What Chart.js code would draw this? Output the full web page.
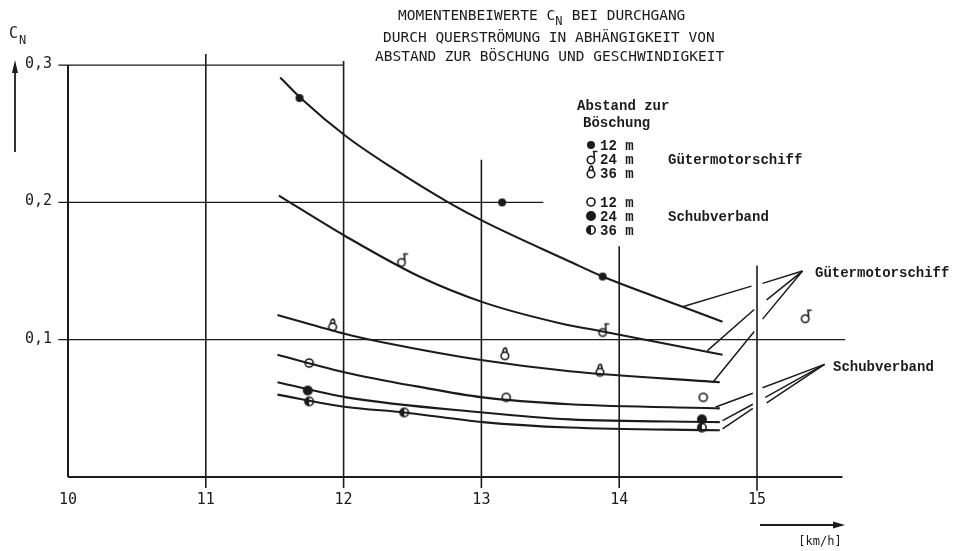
<!DOCTYPE html>
<html>
<head>
<meta charset="utf-8">
<script src="https://cdn.jsdelivr.net/npm/chart.js@4/dist/chart.umd.min.js"></script>
<style>
  html, body { margin: 0; padding: 0; background: #fff; }
  #wrap { width: 966px; height: 551px; }
</style>
</head>
<body>
<div id="wrap"><canvas id="chart" width="966" height="551"></canvas></div>
<script>
// ticks
const xTicks = [10, 11, 12, 13, 14, 15];
const yTicks = [0.1, 0.2, 0.3];
const yTickLabels = ['0,1', '0,2', '0,3'];

// fitted curves (speed km/h, C_N)
const speedGms12 = [11.54, 11.70, 12.02, 12.34, 12.76, 13.02, 13.64, 13.88, 14.46, 14.75];
const cnGms12 = [0.291, 0.275, 0.248, 0.226, 0.200, 0.186, 0.157, 0.146, 0.124, 0.113];
const speedGms24 = [11.53, 12.02, 12.55, 13.02, 13.57, 13.88, 14.75];
const cnGms24 = [0.205, 0.175, 0.146, 0.127, 0.112, 0.106, 0.089];
const speedGms36 = [11.52, 12.02, 12.29, 13.01, 13.64, 14.73];
const cnGms36 = [0.118, 0.104, 0.098, 0.085, 0.077, 0.069];
const speedSv12 = [11.52, 12.02, 12.53, 13.01, 13.64, 14.73];
const cnSv12 = [0.089, 0.076, 0.066, 0.058, 0.053, 0.050];
const speedSv24 = [11.52, 12.02, 13.01, 13.64, 14.73];
const cnSv24 = [0.069, 0.058, 0.047, 0.042, 0.040];
const speedSv36 = [11.52, 12.02, 12.44, 13.01, 13.64, 14.73];
const cnSv36 = [0.060, 0.051, 0.047, 0.040, 0.036, 0.034];

// measured points
const ptGms12X = [11.68, 13.15, 13.88];
const ptGms12Y = [0.276, 0.200, 0.146];
const ptGms24X = [12.42, 13.88, 15.35];
const ptGms24Y = [0.157, 0.106, 0.116];
const ptGms36X = [11.92, 13.17, 13.86];
const ptGms36Y = [0.110, 0.089, 0.077];
const ptSv12X = [11.75, 13.18, 14.61];
const ptSv12Y = [0.083, 0.058, 0.058];
const ptSv24X = [11.74, 14.60];
const ptSv24Y = [0.063, 0.042];
const ptSv36X = [11.75, 12.44, 14.60];
const ptSv36Y = [0.055, 0.047, 0.036];

// leader lines to the right-hand labels (null = gap at the 15 line)
const leadersGms = [
  [[14.46, 0.124], [14.96, 0.139], null, [15.04, 0.141], [15.33, 0.150]],
  [[14.64, 0.092], [14.98, 0.122], null, [15.07, 0.129], [15.33, 0.150]],
  [[14.68, 0.069], [14.98, 0.106], null, [15.04, 0.115], [15.33, 0.150]]
];
const leadersSv = [
  [[14.70, 0.051], [14.97, 0.061], null, [15.04, 0.065], [15.49, 0.082]],
  [[14.75, 0.041], [14.97, 0.053], null, [15.06, 0.058], [15.49, 0.082]],
  [[14.75, 0.035], [14.97, 0.050], null, [15.07, 0.054], [15.49, 0.082]]
];

// partial grid lines as drawn on the sheet
const hGridY = [0.3, 0.2, 0.1];
const hGridFrom = [9.93, 9.93, 9.93];
const hGridTo = [12.0, 13.45, 15.64];
const vGridX = [11, 12, 13, 14, 15];
const vGridTop = [0.308, 0.303, 0.231, 0.168, 0.154];
const vGridBottom = [-0.008, -0.008, -0.008, -0.008, -0.010];

const INK = '#1b1b1b';
const X0_PX = 68, PX_PER_KMH = 137.8, Y0_PX = 477, PX_PER_CN = 1373;
const W = 966, H = 551;

function glyph(draw) {
  const c = document.createElement('canvas');
  c.width = 22; c.height = 22;
  const g = c.getContext('2d');
  g.strokeStyle = INK; g.fillStyle = INK; g.lineWidth = 1.6;
  draw(g);
  return c;
}
const mkGms12 = glyph(g => { g.beginPath(); g.arc(11, 11, 4, 0, Math.PI * 2); g.fill(); });
const mkGms24 = glyph(g => {
  g.beginPath(); g.arc(11, 12, 3.7, 0, Math.PI * 2); g.stroke();
  g.beginPath(); g.moveTo(14, 10); g.quadraticCurveTo(14.6, 6.5, 13.6, 3.5); g.lineTo(17.5, 3.5); g.stroke();
});
const mkGms36 = glyph(g => {
  g.beginPath(); g.arc(11, 12, 3.8, 0, Math.PI * 2); g.stroke();
  g.beginPath(); g.moveTo(9, 9); g.quadraticCurveTo(9.2, 4.2, 11.5, 4); g.quadraticCurveTo(13.2, 5, 13, 9); g.stroke();
});
const mkSv12 = glyph(g => { g.beginPath(); g.arc(11, 11, 4, 0, Math.PI * 2); g.stroke(); });
const mkSv24 = glyph(g => { g.beginPath(); g.arc(11, 11, 5, 0, Math.PI * 2); g.fill(); });
const mkSv36 = glyph(g => {
  g.beginPath(); g.arc(11, 11, 4.2, 0, Math.PI * 2); g.stroke();
  g.beginPath(); g.arc(11, 11, 4.2, Math.PI / 2, Math.PI * 1.5); g.fill();
});

const pairs = (xs, ys) => xs.map((x, i) => ({ x, y: ys[i] }));
const seg = (x1, x2, y1, y2) => [{ x: x1, y: y1 }, { x: x2, y: y2 }];

const datasets = [];
function lineDs(data, width, extra) {
  datasets.push(Object.assign({
    data, borderColor: INK, borderWidth: width, pointRadius: 0, fill: false, spanGaps: false
  }, extra || {}));
}

// axes
lineDs(seg(10, 10, 0, 0.3), 2);
lineDs(seg(10, 15.62, 0, 0), 2);
hGridY.forEach((y, i) => lineDs(seg(hGridFrom[i], hGridTo[i], y, y), 1.3));
vGridX.forEach((x, i) => lineDs(seg(x, x, vGridBottom[i], vGridTop[i]), 1.6));

// curves
[[speedGms12, cnGms12], [speedGms24, cnGms24], [speedGms36, cnGms36],
 [speedSv12, cnSv12], [speedSv24, cnSv24], [speedSv36, cnSv36]].forEach(([xs, ys]) =>
  lineDs(pairs(xs, ys), 2.1, { cubicInterpolationMode: 'monotone' }));

// leaders
leadersGms.concat(leadersSv).forEach(l =>
  lineDs(l.map(p => p ? { x: p[0], y: p[1] } : { x: 15, y: null }), 1.5));

// markers
[[ptGms12X, ptGms12Y, mkGms12], [ptGms24X, ptGms24Y, mkGms24], [ptGms36X, ptGms36Y, mkGms36],
 [ptSv12X, ptSv12Y, mkSv12], [ptSv24X, ptSv24Y, mkSv24], [ptSv36X, ptSv36Y, mkSv36]].forEach(([xs, ys, mk]) =>
  datasets.push({ data: pairs(xs, ys), showLine: false, pointStyle: mk, pointRadius: 6, borderColor: INK, backgroundColor: INK }));

const textPlugin = {
  id: 'sheetText',
  afterDraw(chart) {
    const ctx = chart.ctx;
    const xs = chart.scales.x, ys = chart.scales.y;
    ctx.save();
    ctx.fillStyle = INK; ctx.strokeStyle = INK;

    // title
    ctx.font = '14.5px "DejaVu Sans Mono"';
    ctx.textAlign = 'left'; ctx.textBaseline = 'alphabetic';
    let t1 = 'MOMENTENBEIWERTE C';
    ctx.fillText(t1, 398, 20);
    let w1 = ctx.measureText(t1).width;
    ctx.font = '12px "DejaVu Sans Mono"';
    ctx.fillText('N', 398 + w1, 25);
    ctx.font = '14.5px "DejaVu Sans Mono"';
    ctx.fillText(' BEI DURCHGANG', 398 + w1 + 8, 20);
    ctx.fillText('DURCH QUERSTRÖMUNG IN ABHÄNGIGKEIT VON', 383, 42);
    ctx.fillText('ABSTAND ZUR BÖSCHUNG UND GESCHWINDIGKEIT', 375, 61);

    // axis labels
    ctx.font = '15px "DejaVu Sans Mono"';
    ctx.textAlign = 'center';
    xTicks.forEach(v => ctx.fillText(String(v), xs.getPixelForValue(v), 504));
    ctx.textAlign = 'left';
    yTicks.forEach((v, i) => ctx.fillText(yTickLabels[i], 25, ys.getPixelForValue(v) + 3));
    ctx.fillText('C', 9, 38);
    ctx.font = '12px "DejaVu Sans Mono"';
    ctx.fillText('N', 19, 44);

    // y arrow
    ctx.lineWidth = 1.8;
    ctx.beginPath(); ctx.moveTo(15, 152); ctx.lineTo(15, 68); ctx.stroke();
    ctx.beginPath(); ctx.moveTo(15, 60); ctx.lineTo(12, 73); ctx.lineTo(18, 73); ctx.closePath(); ctx.fill();
    // x unit arrow
    ctx.beginPath(); ctx.moveTo(760, 525); ctx.lineTo(836, 525); ctx.stroke();
    ctx.beginPath(); ctx.moveTo(845, 525); ctx.lineTo(833, 521.5); ctx.lineTo(833, 528.5); ctx.closePath(); ctx.fill();
    ctx.font = '12px "DejaVu Sans Mono"';
    ctx.textAlign = 'center';
    ctx.fillText('[km/h]', 820, 545);

    // legend
    ctx.textAlign = 'left';
    ctx.font = 'bold 14px "Liberation Mono"';
    ctx.fillText('Abstand zur', 577, 110);
    ctx.fillText('Böschung', 583, 127);
    const rows = [[mkGms12, '12 m', 145], [mkGms24, '24 m', 159], [mkGms36, '36 m', 173],
                  [mkSv12, '12 m', 202], [mkSv24, '24 m', 216], [mkSv36, '36 m', 230]];
    rows.forEach(([mk, txt, y]) => {
      ctx.drawImage(mk, 591 - 11, y - 11);
      ctx.fillText(txt, 600, y + 5);
    });
    ctx.fillText('Gütermotorschiff', 668, 164);
    ctx.fillText('Schubverband', 668, 221);
    ctx.fillText('Gütermotorschiff', 815, 277);
    ctx.fillText('Schubverband', 833, 371);
    ctx.restore();
  }
};

new Chart(document.getElementById('chart'), {
  type: 'line',
  data: { datasets },
  options: {
    responsive: false,
    animation: false,
    devicePixelRatio: 1,
    layout: { padding: 0, autoPadding: false },
    plugins: { legend: { display: false }, tooltip: { enabled: false } },
    scales: {
      x: { type: 'linear', display: false, min: 10 - X0_PX / PX_PER_KMH, max: 10 + (W - X0_PX) / PX_PER_KMH },
      y: { type: 'linear', display: false, min: -(H - Y0_PX) / PX_PER_CN, max: Y0_PX / PX_PER_CN }
    }
  },
  plugins: [textPlugin]
});
</script>
</body>
</html>
